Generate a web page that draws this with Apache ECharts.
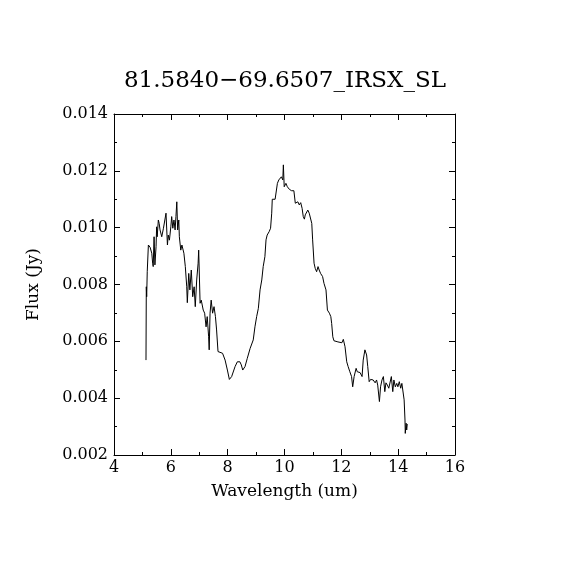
<!DOCTYPE html>
<html>
<head>
<meta charset="utf-8">
<script src="https://cdn.jsdelivr.net/npm/echarts@6/dist/echarts.min.js"></script>
<style>
html,body{margin:0;padding:0;background:#fff;}
#chart{width:570px;height:570px;}
</style>
</head>
<body>
<div id="chart"></div>
<script>
var titleText = "81.5840\u221269.6507_IRSX_SL";
var xTitle = "Wavelength (um)";
var yTitle = "Flux (Jy)";
var xTicks = [4, 6, 8, 10, 12, 14, 16];
var yTicks = [0.002, 0.004, 0.006, 0.008, 0.010, 0.012, 0.014];

var wavelength = [
5.126,5.137,5.15,5.17,5.21,5.27,5.33,5.36,5.38,5.41,5.44,5.48,5.50,5.52,5.56,5.59,5.62,5.68,5.74,5.79,
5.83,5.88,5.91,5.95,6.00,6.03,6.07,6.11,6.15,6.18,6.21,6.24,6.28,6.30,6.35,6.39,6.44,6.46,6.51,6.56,
6.58,6.63,6.67,6.72,6.77,6.82,6.86,6.91,6.96,6.98,7.03,7.07,7.11,7.14,7.19,7.24,7.28,7.33,7.35,7.38,
7.42,7.47,7.52,7.57,7.61,7.66,7.73,7.82,7.91,7.99,8.06,8.14,8.20,8.26,8.34,8.43,8.48,8.53,8.61,8.69,
8.79,8.90,8.96,9.02,9.08,9.14,9.20,9.25,9.31,9.35,9.39,9.46,9.51,9.55,9.57,9.67,9.72,9.75,9.80,9.84,
9.89,9.94,9.96,9.99,10.05,10.10,10.17,10.25,10.33,10.38,10.43,10.47,10.52,10.57,10.62,10.66,10.70,10.73,10.78,10.82,
10.87,10.92,10.96,10.99,11.04,11.08,11.13,11.18,11.22,11.27,11.34,11.39,11.46,11.51,11.58,11.63,11.66,11.70,11.74,11.81,
11.88,11.95,12.02,12.07,12.13,12.19,12.24,12.30,12.36,12.40,12.45,12.52,12.56,12.66,12.73,12.77,12.83,12.89,12.93,12.98,
13.03,13.12,13.19,13.24,13.28,13.31,13.34,13.38,13.43,13.48,13.53,13.57,13.62,13.67,13.71,13.76,13.81,13.85,13.90,13.95,
13.99,14.04,14.09,14.13,14.18,14.21,14.24,14.25,14.28,14.30,14.32
];
var flux = [
0.00534,0.00792,0.00757,0.00845,0.00939,0.00931,0.00910,0.00875,0.00863,0.00968,0.00869,0.00933,0.01003,0.00968,0.01027,0.01015,0.00992,0.00968,0.00998,0.00992,
0.01051,0.00939,0.00974,0.00956,0.01003,0.01039,0.00998,0.01027,0.00992,0.01039,0.01091,0.00992,0.01027,0.00968,0.00921,0.00939,0.00945,0.00910,0.00863,0.00792,
0.00736,0.00839,0.00781,0.00851,0.00757,0.00792,0.00722,0.00816,0.00875,0.00921,0.00734,0.00745,0.00748,0.00710,0.00699,0.00651,0.00687,0.00616,0.00570,0.00699,
0.00745,0.00699,0.00722,0.00687,0.00640,0.00564,0.00558,0.00558,0.00534,0.00499,0.00466,0.00476,0.00482,0.00511,0.00528,0.00528,0.00517,0.00499,0.00511,0.00540,
0.00575,0.00605,0.00651,0.00687,0.00716,0.00781,0.00816,0.00863,0.00898,0.00957,0.00974,0.00986,0.00998,0.01051,0.01100,0.01100,0.01100,0.01156,0.01168,0.01162,
0.01179,0.01168,0.01221,0.01144,0.01156,0.01144,0.01135,0.01130,0.01130,0.01086,0.01080,0.01091,0.01080,0.01088,0.01068,0.01039,0.01030,0.01045,0.01045,0.01062,
0.01051,0.01056,0.01015,0.00957,0.00875,0.00857,0.00845,0.00863,0.00851,0.00839,0.00828,0.00804,0.00781,0.00710,0.00699,0.00687,0.00663,0.00616,0.00602,0.00599,
0.00598,0.00593,0.00595,0.00607,0.00581,0.00528,0.00511,0.00493,0.00476,0.00440,0.00476,0.00505,0.00493,0.00490,0.00476,0.00534,0.00570,0.00552,0.00511,0.00458,
0.00466,0.00464,0.00454,0.00464,0.00446,0.00440,0.00388,0.00440,0.00464,0.00476,0.00423,0.00454,0.00446,0.00435,0.00429,0.00476,0.00423,0.00464,0.00440,0.00452,
0.00440,0.00458,0.00435,0.00452,0.00458,0.00394,0.00323,0.00276,0.00312,0.00288,0.00309
];

var points = wavelength.map(function (w, i) { return [w, flux[i]]; });
var FONT = "DejaVu Serif";

var chart = echarts.init(document.getElementById('chart'), null, {renderer: 'canvas'});

function xAx(pos, labels) {
  return {
    type: 'value', position: pos, min: xTicks[0], max: xTicks[xTicks.length - 1], interval: 2,
    name: labels ? xTitle : '', nameLocation: 'middle', nameGap: 28,
    nameTextStyle: {fontFamily: FONT, fontSize: 17, color: '#000'},
    axisLine: {show: true, onZero: false, lineStyle: {color: '#000', width: 1}},
    axisTick: {show: true, inside: true, length: 6, lineStyle: {color: '#000', width: 1}},
    minorTick: {show: true, splitNumber: 2, length: 3, lineStyle: {color: '#000', width: 1}},
    axisLabel: {show: labels, margin: 5, fontFamily: FONT, fontSize: 16, color: '#000'},
    splitLine: {show: false}
  };
}
function yAx(pos, labels) {
  return {
    type: 'value', position: pos, min: yTicks[0], max: yTicks[yTicks.length - 1], interval: 0.002,
    name: labels ? yTitle : '', nameLocation: 'middle', nameGap: 72, nameRotate: 90,
    nameTextStyle: {fontFamily: FONT, fontSize: 17, color: '#000'},
    axisLine: {show: true, onZero: false, lineStyle: {color: '#000', width: 1}},
    axisTick: {show: true, inside: true, length: 6, lineStyle: {color: '#000', width: 1}},
    minorTick: {show: true, splitNumber: 2, length: 3, lineStyle: {color: '#000', width: 1}},
    axisLabel: {show: labels, margin: 6, fontFamily: FONT, fontSize: 16, color: '#000',
      formatter: function (v) { return v.toFixed(3); }},
    splitLine: {show: false}
  };
}

chart.setOption({
  animation: false,
  backgroundColor: '#fff',
  title: {
    text: titleText, left: 'center', top: 70, padding: 0,
    textStyle: {fontFamily: FONT, fontSize: 23, fontWeight: 'normal', color: '#000'}
  },
  grid: {left: 114, top: 114, width: 341, height: 341, show: false},
  xAxis: [xAx('bottom', true), xAx('top', false)],
  yAxis: [yAx('left', true), yAx('right', false)],
  series: [{
    type: 'line', xAxisIndex: 0, yAxisIndex: 0, data: points,
    showSymbol: false, symbol: 'none', clip: true,
    lineStyle: {color: '#000', width: 1}
  }]
});
</script>
</body>
</html>
